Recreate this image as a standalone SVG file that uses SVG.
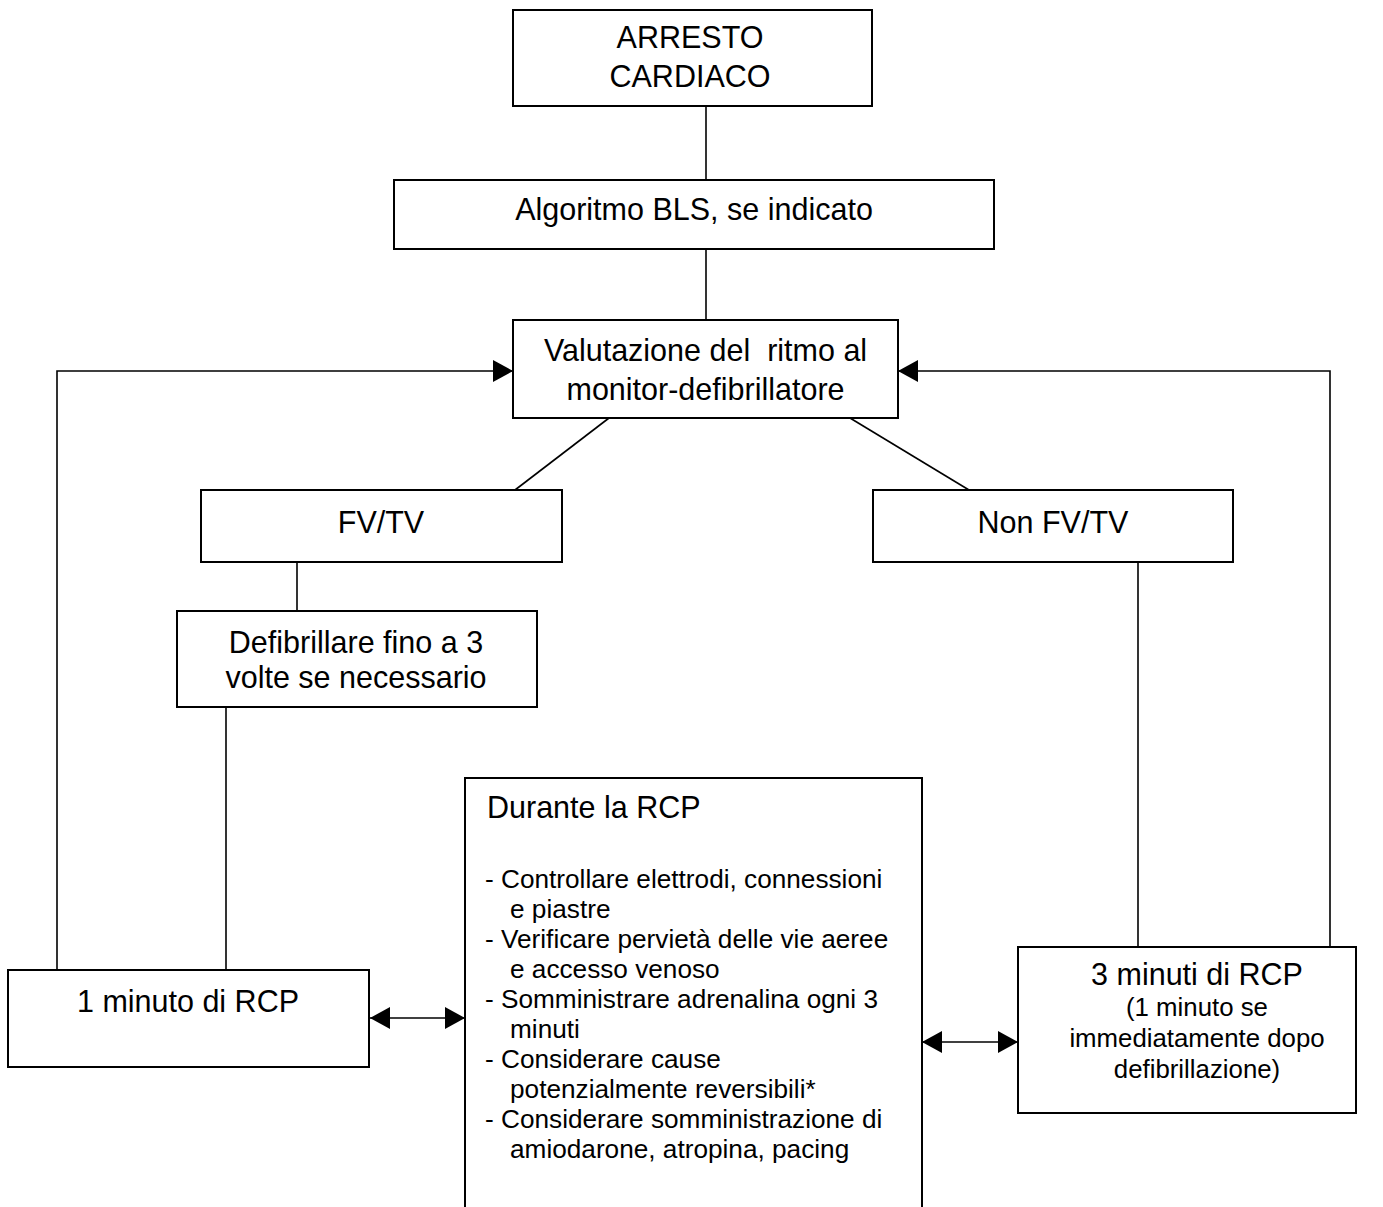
<svg xmlns="http://www.w3.org/2000/svg" width="1383" height="1207" viewBox="0 0 1383 1207">
  <style>
    .box { fill: #fff; stroke: #000; stroke-width: 2; }
    .ln { fill: none; stroke: #000; stroke-width: 1.6; }
    text { font-family: "Liberation Sans", Arial, sans-serif; fill: #000; }
    .big { font-size: 30.5px; }
    .mid { font-size: 25.8px; }
    .list { font-size: 26.2px; }
    .c { text-anchor: middle; }
  </style>
  <defs>
    <marker id="arrow" viewBox="0 0 20 22" refX="20" refY="11" markerWidth="20" markerHeight="22" markerUnits="userSpaceOnUse" orient="auto-start-reverse">
      <path d="M0,0 L20,11 L0,22 Z" fill="#000"/>
    </marker>
  </defs>

  <rect width="1383" height="1207" fill="#fff"/>

  <!-- connectors -->
  <g id="connectors">
    <line class="ln" x1="706" y1="106" x2="706" y2="180"/>
    <line class="ln" x1="706" y1="249" x2="706" y2="320"/>
    <line class="ln" x1="609" y1="418" x2="515" y2="490"/>
    <line class="ln" x1="850" y1="418" x2="969" y2="490"/>
    <line class="ln" x1="297" y1="562" x2="297" y2="611"/>
    <line class="ln" x1="226" y1="707" x2="226" y2="970"/>
    <line class="ln" x1="1138" y1="562" x2="1138" y2="947"/>
    <polyline class="ln" points="57,970 57,371 513,371" marker-end="url(#arrow)"/>
    <polyline class="ln" points="1330,947 1330,371 898,371" marker-end="url(#arrow)"/>
    <line class="ln" x1="370" y1="1018" x2="465" y2="1018" marker-start="url(#arrow)" marker-end="url(#arrow)"/>
    <line class="ln" x1="922" y1="1042" x2="1018" y2="1042" marker-start="url(#arrow)" marker-end="url(#arrow)"/>
  </g>

  <g id="arresto">
    <rect class="box" x="513" y="10" width="359" height="96"/>
    <text class="big c" x="690" y="48">ARRESTO</text>
    <text class="big c" x="690" y="87">CARDIACO</text>
  </g>

  <g id="bls">
    <rect class="box" x="394" y="180" width="600" height="69"/>
    <text class="big c" x="694" y="220">Algoritmo BLS, se indicato</text>
  </g>

  <g id="valutazione">
    <rect class="box" x="513" y="320" width="385" height="98"/>
    <text class="big c" x="705.5" y="361" xml:space="preserve">Valutazione del  ritmo al</text>
    <text class="big c" x="705.5" y="400">monitor-defibrillatore</text>
  </g>

  <g id="fvtv">
    <rect class="box" x="201" y="490" width="361" height="72"/>
    <text class="big c" x="381" y="533">FV/TV</text>
  </g>

  <g id="non-fvtv">
    <rect class="box" x="873" y="490" width="360" height="72"/>
    <text class="big c" x="1053" y="533">Non FV/TV</text>
  </g>

  <g id="defibrillare">
    <rect class="box" x="177" y="611" width="360" height="96"/>
    <text class="big c" x="356" y="653">Defibrillare fino a 3</text>
    <text class="big c" x="356" y="688">volte se necessario</text>
  </g>

  <g id="rcp-1">
    <rect class="box" x="8" y="970" width="361" height="97"/>
    <text class="big c" x="188" y="1012">1 minuto di RCP</text>
  </g>

  <g id="durante">
    <rect class="box" x="465" y="778" width="457" height="450"/>
    <text class="big" x="487" y="818">Durante la RCP</text>
    <text class="list" x="485" y="888">- Controllare elettrodi, connessioni</text>
    <text class="list" x="510" y="918">e piastre</text>
    <text class="list" x="485" y="948">- Verificare pervietà delle vie aeree</text>
    <text class="list" x="510" y="978">e accesso venoso</text>
    <text class="list" x="485" y="1008">- Somministrare adrenalina ogni 3</text>
    <text class="list" x="510" y="1038">minuti</text>
    <text class="list" x="485" y="1068">- Considerare cause</text>
    <text class="list" x="510" y="1098">potenzialmente reversibili*</text>
    <text class="list" x="485" y="1128">- Considerare somministrazione di</text>
    <text class="list" x="510" y="1158">amiodarone, atropina, pacing</text>
  </g>

  <g id="rcp-3">
    <rect class="box" x="1018" y="947" width="338" height="166"/>
    <text class="big c" x="1197" y="985">3 minuti di RCP</text>
    <text class="mid c" x="1197" y="1016">(1 minuto se</text>
    <text class="mid c" x="1197" y="1047">immediatamente dopo</text>
    <text class="mid c" x="1197" y="1078">defibrillazione)</text>
  </g>
</svg>
